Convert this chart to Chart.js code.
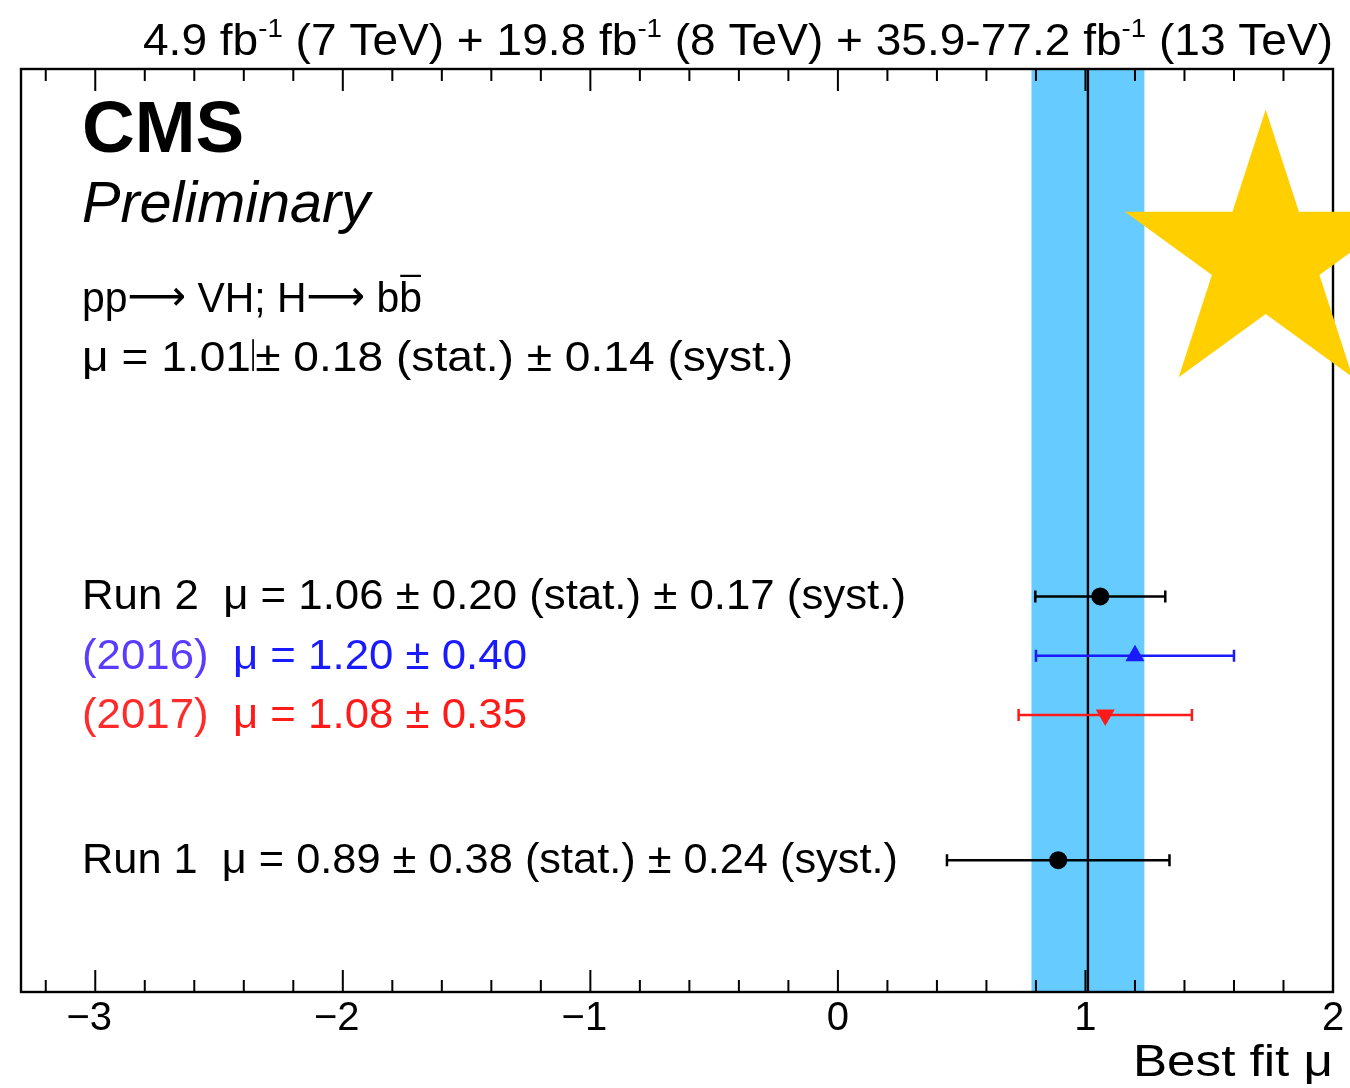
<!DOCTYPE html>
<html>
<head>
<meta charset="utf-8">
<title>VH, H→bb signal strength</title>
<script src="https://cdn.jsdelivr.net/npm/chart.js@4.4.1/dist/chart.umd.min.js"></script>
<style>
  html, body { margin: 0; padding: 0; background: #ffffff; overflow: hidden; }
  #wrap { width: 1350px; height: 1088px; position: relative; }
  canvas { display: block; }
</style>
</head>
<body>
<div id="wrap"><canvas id="c" width="1350" height="1088"></canvas></div>
<script>
// ---- measurements ----
const rowNames = ['Run 2', '(2016)', '(2017)', 'Run 1'];
const rowMu    = [1.06, 1.20, 1.08, 0.89];
const rowStat  = [0.20, null, null, 0.38];
const rowSyst  = [0.17, null, null, 0.24];
const rowTotal = [null, 0.40, 0.35, null];
const rowLevel = [3.0, 2.55, 2.1, 1.0];

// combined result
const combinedMu   = 1.01;
const combinedStat = 0.18;
const combinedSyst = 0.14;

// axis ticks
const majorTicks  = [-3, -2, -1, 0, 1, 2];
const majorLabels = ['\u22123', '\u22122', '\u22121', '0', '1', '2'];
const minorTicks  = [-3.2, -2.8, -2.6, -2.4, -2.2, -1.8, -1.6, -1.4, -1.2,
                     -0.8, -0.6, -0.4, -0.2, 0.2, 0.4, 0.6, 0.8,
                     1.2, 1.4, 1.6, 1.8];

// ---- styling ----
const FONT = '"Liberation Sans", Arial, Helvetica, sans-serif';
const markerStyle  = ['circle', 'triangle', 'triangle', 'circle'];
const markerRot    = [0, 0, 180, 0];
const markerColor  = ['#000000', '#1a1aff', '#ff1a1a', '#000000'];
const labelColor   = ['#000000', '#5a3cff', '#ff2a2a', '#000000'];
const markerRadius = [9, 11, 11, 9];

function totalError(i) {
  if (rowTotal[i] !== null) return rowTotal[i];
  return Math.hypot(rowStat[i], rowSyst[i]);
}

// draw a run of text segments (supports superscripts, overlines, thin bars);
// optional fit width compresses horizontally to the given span
function rich(ctx, segs, x, y, align, size, fitWidth) {
  const fontFor = s => `${s.style || ''} ${s.sup ? size * 0.6 : size}px ${s.family || FONT}`;
  const widths = segs.map(s => {
    if (s.bar) return s.w;
    ctx.font = fontFor(s);
    return ctx.measureText(s.t).width;
  });
  const total = widths.reduce((a, b) => a + b, 0);
  const sx = fitWidth ? fitWidth / total : 1;
  const start = align === 'right' ? x - total * sx : x;
  ctx.save();
  ctx.translate(start, y);
  ctx.scale(sx, 1);
  ctx.textBaseline = 'alphabetic';
  ctx.textAlign = 'left';
  let cx = 0;
  segs.forEach((s, k) => {
    ctx.fillStyle = s.color || '#000';
    ctx.strokeStyle = s.color || '#000';
    if (s.bar) {
      ctx.lineWidth = 1.6;
      ctx.beginPath();
      ctx.moveTo(cx + s.w / 2, -size * 0.74);
      ctx.lineTo(cx + s.w / 2, 0);
      ctx.stroke();
    } else {
      ctx.font = fontFor(s);
      ctx.fillText(s.t, cx, (s.sup ? -size * 0.42 : 0) + (s.dy || 0));
      if (s.over) {
        ctx.lineWidth = 2.2;
        ctx.beginPath();
        ctx.moveTo(cx + 1, -size * 0.86);
        ctx.lineTo(cx + widths[k] - 1, -size * 0.86);
        ctx.stroke();
      }
    }
    cx += widths[k];
  });
  ctx.restore();
}

function rowText(i) {
  const mu = rowMu[i].toFixed(2);
  if (rowTotal[i] !== null) {
    return [
      { t: rowNames[i] + '  ', color: labelColor[i] },
      { t: `\u03bc = ${mu} \u00b1 ${rowTotal[i].toFixed(2)}`, color: markerColor[i] }
    ];
  }
  return [{ t: `${rowNames[i]}  \u03bc = ${mu} \u00b1 ${rowStat[i].toFixed(2)} (stat.) \u00b1 ${rowSyst[i].toFixed(2)} (syst.)` }];
}
const rowTextWidth = [824, 445, 445, 816];

const decor = {
  id: 'decor',
  beforeDatasetsDraw(chart) {
    const { ctx, chartArea: a, scales: { x, y } } = chart;
    ctx.save();
    // combined uncertainty band
    const tot = Math.hypot(combinedStat, combinedSyst);
    const b0 = x.getPixelForValue(combinedMu - tot);
    const b1 = x.getPixelForValue(combinedMu + tot);
    ctx.fillStyle = '#66ccff';
    ctx.fillRect(b0, a.top, b1 - b0, a.bottom - a.top);
    // combined central value
    const xc = x.getPixelForValue(combinedMu);
    ctx.strokeStyle = '#000';
    ctx.lineWidth = 2.4;
    ctx.beginPath();
    ctx.moveTo(xc, a.top);
    ctx.lineTo(xc, a.bottom);
    ctx.stroke();
    // horizontal error bars with end caps
    rowMu.forEach((mu, i) => {
      const e = totalError(i);
      const xl = x.getPixelForValue(mu - e);
      const xr = x.getPixelForValue(mu + e);
      const yy = y.getPixelForValue(rowLevel[i]);
      ctx.strokeStyle = markerColor[i];
      ctx.lineWidth = 2.5;
      ctx.beginPath();
      ctx.moveTo(xl, yy); ctx.lineTo(xr, yy);
      ctx.moveTo(xl, yy - 6); ctx.lineTo(xl, yy + 6);
      ctx.moveTo(xr, yy - 6); ctx.lineTo(xr, yy + 6);
      ctx.stroke();
    });
    ctx.restore();
  },
  afterDatasetsDraw(chart) {
    const { ctx, chartArea: a, scales: { x, y } } = chart;
    ctx.save();
    // frame
    ctx.strokeStyle = '#000';
    ctx.lineWidth = 2.4;
    ctx.strokeRect(a.left, a.top, a.right - a.left, a.bottom - a.top);
    // inward ticks on bottom and top
    ctx.lineWidth = 2;
    ctx.beginPath();
    majorTicks.forEach(v => {
      const px = x.getPixelForValue(v);
      ctx.moveTo(px, a.bottom); ctx.lineTo(px, a.bottom - 22);
      ctx.moveTo(px, a.top);    ctx.lineTo(px, a.top + 22);
    });
    minorTicks.forEach(v => {
      const px = x.getPixelForValue(v);
      ctx.moveTo(px, a.bottom); ctx.lineTo(px, a.bottom - 12);
      ctx.moveTo(px, a.top);    ctx.lineTo(px, a.top + 12);
    });
    ctx.stroke();
    // tick labels
    ctx.fillStyle = '#000';
    ctx.font = `40px ${FONT}`;
    ctx.textAlign = 'center';
    ctx.textBaseline = 'alphabetic';
    majorTicks.forEach((v, i) => {
      const px = x.getPixelForValue(v);
      const lab = majorLabels[i];
      const shift = lab.startsWith('\u2212') ? -6 : 0;
      ctx.fillText(lab, px + shift, a.bottom + 38);
    });
    // axis title
    rich(ctx, [{ t: 'Best fit \u03bc' }], a.right, a.bottom + 84, 'right', 45, 200);

    // luminosity / energy header
    rich(ctx, [
      { t: '4.9 fb' }, { t: '-1', sup: true },
      { t: ' (7 TeV) + 19.8 fb' }, { t: '-1', sup: true },
      { t: ' (8 TeV) + 35.9-77.2 fb' }, { t: '-1', sup: true },
      { t: ' (13 TeV)' }
    ], a.right, a.top - 14, 'right', 44, 1190);

    // experiment labels
    const lx = a.left + 61;
    rich(ctx, [{ t: 'CMS', style: 'bold' }], lx, a.top + 83, 'left', 73);
    rich(ctx, [{ t: 'Preliminary', style: 'italic' }], lx, a.top + 153, 'left', 57, 288);
    rich(ctx, [
      { t: 'pp' }, { t: '\u27f6', family: '"DejaVu Sans", sans-serif', dy: -2 },
      { t: ' VH; H' }, { t: '\u27f6', family: '"DejaVu Sans", sans-serif', dy: -2 },
      { t: ' b' }, { t: 'b', over: true }
    ], lx, a.top + 243, 'left', 42, 340);
    rich(ctx, [
      { t: `\u03bc = ${combinedMu.toFixed(2)}` }, { bar: true, w: 4 },
      { t: `\u00b1 ${combinedStat.toFixed(2)} (stat.) \u00b1 ${combinedSyst.toFixed(2)} (syst.)` }
    ], lx, a.top + 302, 'left', 43, 711);

    // per-measurement labels, aligned with their markers
    rowMu.forEach((mu, i) => {
      const yy = y.getPixelForValue(rowLevel[i]);
      rich(ctx, rowText(i), lx, yy + 13, 'left', 43, rowTextWidth[i]);
    });
    ctx.restore();
  },
  afterDraw(chart) {
    const { ctx, scales: { x, y } } = chart;
    // gold star emblem
    const cx = x.getPixelForValue(1.728);
    const cy = y.getPixelForValue(5.57);
    const R = 148, r = R * 0.382;
    ctx.save();
    ctx.fillStyle = '#ffcf00';
    ctx.beginPath();
    for (let k = 0; k < 10; k++) {
      const ang = -Math.PI / 2 + k * Math.PI / 5;
      const rad = k % 2 === 0 ? R : r;
      const px = cx + rad * Math.cos(ang), py = cy + rad * Math.sin(ang);
      if (k === 0) ctx.moveTo(px, py); else ctx.lineTo(px, py);
    }
    ctx.closePath();
    ctx.fill();
    ctx.restore();
  }
};

const datasets = rowMu.map((mu, i) => ({
  label: rowNames[i],
  data: [{ x: mu, y: rowLevel[i] }],
  pointStyle: markerStyle[i],
  rotation: markerRot[i],
  radius: markerRadius[i],
  backgroundColor: markerColor[i],
  borderColor: markerColor[i],
  borderWidth: 0,
  showLine: false
}));

new Chart(document.getElementById('c'), {
  type: 'scatter',
  data: { datasets },
  options: {
    responsive: false,
    animation: false,
    devicePixelRatio: 1,
    layout: { padding: { left: 21, right: 17, top: 69, bottom: 96 } },
    scales: {
      x: { type: 'linear', min: -3.3, max: 2, display: false },
      y: { type: 'linear', min: 0, max: 7, display: false }
    },
    plugins: { legend: { display: false }, tooltip: { enabled: false } },
    events: []
  },
  plugins: [decor]
});
</script>
</body>
</html>
